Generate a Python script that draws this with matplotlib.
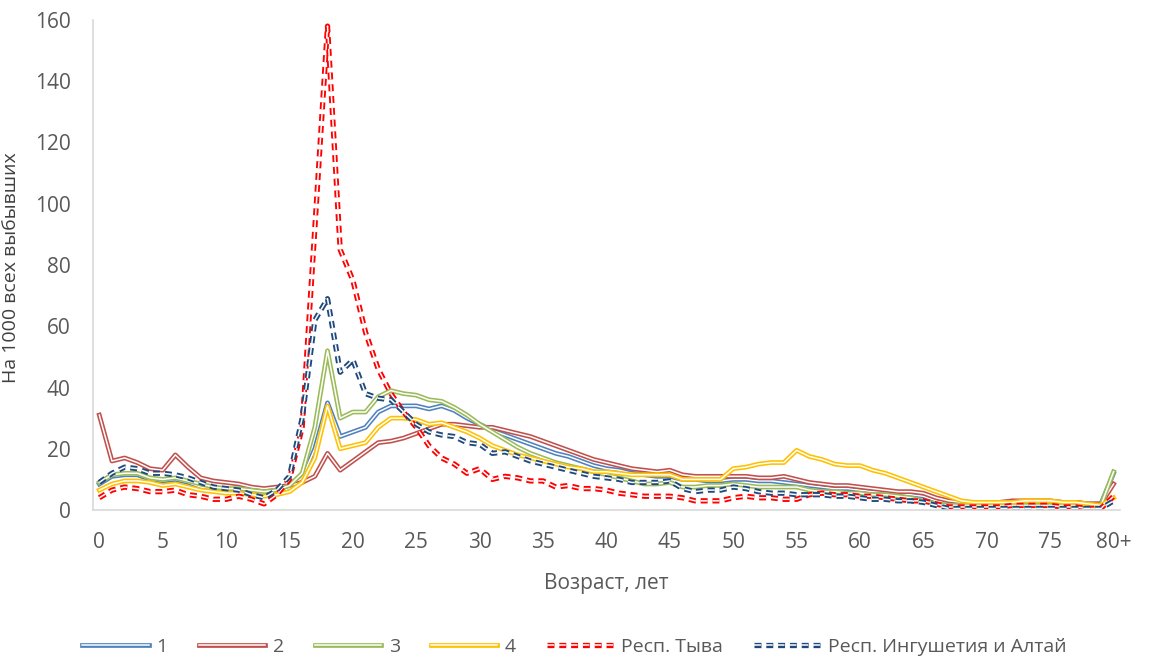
import matplotlib
matplotlib.use("Agg")
import matplotlib.pyplot as plt
import matplotlib.patheffects as pe
import numpy as np

plt.rcParams['font.family'] = ['Open Sans', 'DejaVu Sans']
plt.rcParams['lines.scale_dashes'] = False

ages = np.arange(0, 81)
tick_pos = [0, 5, 10, 15, 20, 25, 30, 35, 40, 45, 50, 55, 60, 65, 70, 75, 80]
tick_lab = ['0', '5', '10', '15', '20', '25', '30', '35', '40', '45', '50',
            '55', '60', '65', '70', '75', '80+']

# группа 1
s1 = [8.5, 11, 11.5, 11.5, 10, 9.5, 10, 9, 7.5, 7, 6.5, 6.5, 6, 5.5, 6, 7, 10.5, 20, 35, 24,
      25.5, 27, 32, 34, 34, 34, 33, 34, 32.5, 30, 28, 26, 24.5, 23, 21.5, 20, 18.5, 17.5, 16, 14.5,
      13.5, 13, 12, 11.5, 11, 11, 10, 10, 9.5, 9.5, 10, 10, 9.5, 9.5, 9, 8.5, 8, 7.5, 7, 7,
      6.5, 6, 6, 5.5, 5, 4.5, 3, 2.5, 2, 2, 2, 2, 2.5, 2.5, 2.5, 2.5, 2.5, 2.5, 2, 2, 12]
# группа 2
s2 = [31, 16, 17, 15.5, 13.5, 13, 18, 14, 10.5, 9.5, 9, 8.5, 7.5, 7, 7.5, 8, 9, 11, 18.5, 13,
      16, 19, 22, 22.5, 23.5, 25, 26.5, 28, 28, 27.5, 27, 27, 26, 25, 24, 22.5, 21, 19.5, 18, 16.5,
      15.5, 14.5, 13.5, 13, 12.5, 13, 11.5, 11, 11, 11, 11, 11, 10.5, 10.5, 11, 10, 9, 8.5, 8, 8,
      7.5, 7, 6.5, 6, 6, 5.5, 4, 3, 2.5, 2.5, 2.5, 2.5, 3, 3, 3, 3, 2.5, 2.5, 2, 2, 8.5]
# группа 3
s3 = [9, 11.5, 12, 12, 10.5, 10, 10.5, 9.5, 8.5, 7.5, 7, 7, 6.5, 6, 6.5, 8, 12, 27, 52, 30,
      32, 32, 37, 39, 38, 37.5, 36, 35.5, 33.5, 31, 28, 25.5, 23, 20.5, 18.5, 17, 15.5, 14.5, 13.5, 12.5,
      11.5, 10.5, 9.5, 8.5, 8.5, 9, 7.5, 7.5, 8, 8, 8.5, 8, 7.5, 7.5, 7.5, 7.5, 6.5, 6, 6, 5.5,
      5.5, 5, 5, 4.5, 4, 3, 2, 1.5, 1.5, 1.5, 1.5, 1.5, 1.5, 1.5, 1.5, 1.5, 1.5, 1.5, 1.5, 1.5, 12.5]
# группа 4
s4 = [6.5, 8.5, 9.5, 9.5, 9, 8, 8.5, 7.5, 6.5, 6, 5.5, 5.5, 5, 4.5, 5, 6, 9, 17, 34, 20,
      21, 22, 27, 30, 30, 29.5, 28, 28.5, 27, 25.5, 23.5, 21, 19.5, 18, 17, 16, 15, 14, 13.5, 12.5,
      12.5, 12, 11.5, 11.5, 11.5, 11.5, 10, 10, 10, 10, 13.5, 14, 15, 15.5, 15.5, 19.5, 17.5, 16.5, 15, 14.5,
      14.5, 13, 12, 10.5, 9, 7.5, 6, 4.5, 3, 2.5, 2.5, 2.5, 2.5, 3, 3, 3, 2.5, 2.5, 2, 1.5, 4]
# Респ. Тыва
tyva = [4, 6.5, 7.5, 7, 6, 6, 6.5, 5, 4.5, 3.5, 3.5, 4.5, 3.5, 2, 5, 10, 27, 92, 158, 85,
        75, 58, 46, 38, 32, 27, 21, 17, 15, 12, 13.5, 10, 11, 10.5, 9.5, 9.5, 7.5, 8, 7, 7,
        6.5, 5.5, 5, 4.5, 4.5, 4.5, 4, 3, 3, 3, 4, 4.5, 4, 4, 3.5, 3.5, 5, 5.5, 5, 5,
        4.5, 4.5, 4, 3.5, 3, 3, 2, 1, 1, 1, 1, 1, 1.5, 1.5, 1.5, 1.5, 1, 1, 0.5, 0.5, 4.5]
# Респ. Ингушетия и Алтай
ing = [9, 12, 14, 13.5, 12, 12, 11.5, 10.5, 9, 7.5, 7, 6.5, 5, 4, 6.5, 11, 30, 62, 69, 45,
       49, 38, 36.5, 36, 32, 28, 25.5, 24.5, 24, 22, 21.5, 18.5, 19, 17.5, 16, 15, 14, 13, 12, 11,
       10.5, 10, 9, 9, 9, 9.5, 7, 6, 6.5, 6.5, 7.5, 7, 6, 5.5, 5.5, 5, 5, 5, 4.5, 4.5,
       4, 3.5, 3.5, 3, 3, 2.5, 1.5, 0.5, 0.5, 0.5, 0.5, 0.5, 0.5, 0.5, 0.5, 0.5, 0.5, 0.5, 0.5, 0.5, 3]

series = [
    (s1, '1', '#4F81BD', '-', 3.4),
    (s2, '2', '#C0504D', '-', 3.4),
    (s3, '3', '#9BBB59', '-', 3.4),
    (s4, '4', '#FFC000', '-', 3.4),
    (tyva, 'Респ. Тыва', '#FF0000', (0, (5, 3.5)), 3.8),
    (ing, 'Респ. Ингушетия и Алтай', '#1F497D', (0, (5, 3.5)), 3.8),
]

fig = plt.figure(figsize=(11.49, 6.64), dpi=100)
ax = fig.add_axes([0.0809, 0.2319, 0.8938, 0.738])

# двойная линия: цветная толстая + белая тонкая внутри
for vals, name, col, ls, w in series:
    ax.plot(ages, vals, color=col, lw=w, ls=ls, label=name,
            path_effects=[pe.Normal(), pe.Stroke(linewidth=1.1, foreground='white')])

ax.set_xlim(-0.5, 80.5)
ax.set_ylim(0, 160)
ax.set_yticks(np.arange(0, 161, 20))
ax.set_xticks(tick_pos)
ax.set_xticklabels(tick_lab)
ax.tick_params(axis='both', length=0, labelsize=15, labelcolor='#595959')
ax.tick_params(axis='x', pad=16)
ax.tick_params(axis='y', pad=16)

for s in ['top', 'right']:
    ax.spines[s].set_visible(False)
for s in ['left', 'bottom']:
    ax.spines[s].set_color('#D9D9D9')
    ax.spines[s].set_linewidth(1.2)

ax.set_xlabel('Возраст, лет', fontsize=15, color='#595959', labelpad=14)
ax.set_ylabel('На 1000 всех выбывших', fontsize=14, color='#404040')
ax.yaxis.set_label_coords(-0.071, 0.494)

fig.legend(loc='center', bbox_to_anchor=(0.5, 0.026), ncol=6, frameon=False,
           fontsize=14, labelcolor='#595959', handlelength=3.4, handletextpad=0.4,
           columnspacing=1.6)

fig.savefig('out.png', dpi=100)
